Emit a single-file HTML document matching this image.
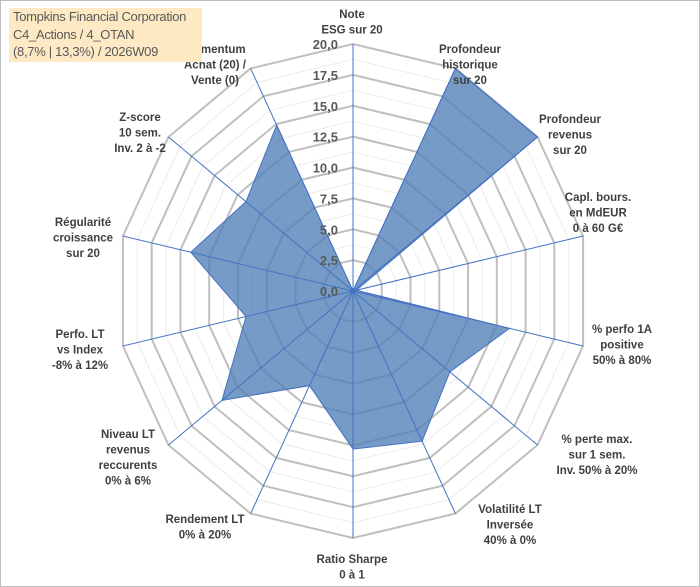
<!DOCTYPE html>
<html><head><meta charset="utf-8"><style>
body{margin:0;background:#fff;}
#wrap{position:relative;width:700px;height:587px;overflow:hidden;font-family:"Liberation Sans",sans-serif;}
.frame{position:absolute;left:0;top:0;width:698px;height:585px;border:1px solid #bdbdbd;}
.title{position:absolute;left:9px;top:8px;width:189px;height:54px;background:#fde9c4;color:#595959;font-size:13px;line-height:17.5px;padding-left:4px;letter-spacing:-0.3px}
</style></head><body>
<div id="wrap">
<div class="frame"></div>
<svg id="chart" width="700" height="587" style="position:absolute;left:0;top:0"></svg>
<div class="title">Tompkins Financial Corporation<br>C4_Actions / 4_OTAN<br>(8,7% | 13,3%) / 2026W09</div>
</div>
<script>
const categories=[["Note","ESG sur 20"],["Profondeur","historique","sur 20"],["Profondeur","revenus","sur 20"],["Capl. bours.","en MdEUR","0 à 60 G€"],["% perfo 1A","positive","50% à 80%"],["% perte max.","sur 1 sem.","Inv. 50% à 20%"],["Volatilité LT","Inversée","40% à 0%"],["Ratio Sharpe","0 à 1"],["Rendement LT","0% à 20%"],["Niveau LT","revenus","reccurents","0% à 6%"],["Perfo. LT","vs Index","-8% à 12%"],["Régularité","croissance","sur 20"],["Z-score","10 sem.","Inv. 2 à -2"],["Momentum","Achat (20) /","Vente (0)"]];
const values=[0,20,20,0.3,13.6,10.5,13.5,12.8,8.5,14.2,9.3,14.1,11.6,14.9];
const tickLabels=["0,0","2,5","5,0","7,5","10,0","12,5","15,0","17,5","20,0"];
const maxVal=20;
const cx=353,cy=291,RX=236,RY=247;
const labelPos=[[352,5],[470,40],[570,110],[598,188],[622,320],[597,430],[510,500],[352,550],[205,510],[128,425],[80,325],[83,213],[140,108],[215,40]];
const svg=document.getElementById('chart');
const NS='http://www.w3.org/2000/svg';
const N=categories.length;
function ang(i){return i*2*Math.PI/N;}
function pt(i,v){const r=v/maxVal;return [cx+r*RX*Math.sin(ang(i)),cy-r*RY*Math.cos(ang(i))];}
function mk(t,a){const e=document.createElementNS(NS,t);for(const k in a)e.setAttribute(k,a[k]);svg.appendChild(e);return e;}
for(let k=1;k<=16;k++){
  const v=k*maxVal/16;const pts=[];for(let i=0;i<N;i++)pts.push(pt(i,v).join(','));
  const major=k%2===0;
  const g=mk('polygon',{points:pts.join(' '),fill:'none',stroke:major?'#bfbfbf':'#ececec','stroke-width':major?2:1});
  
  
}
const sp=values.map((v,i)=>pt(i,v).join(',')).join(' ');
const poly=mk('polygon',{points:sp,fill:'#4f7fb6','fill-opacity':0.78,stroke:'#4472c4','stroke-width':1});


for(let i=0;i<N;i++){
  const p=pt(i,maxVal);
  const l=mk('line',{x1:cx,y1:cy,x2:p[0],y2:p[1],stroke:'#4472c4','stroke-width':1});
  
  
}
tickLabels.forEach((t,k)=>{
  const y=cy-(k*2.5)/maxVal*RY;
  const e=mk('text',{x:338,y:y+5,'text-anchor':'end','font-size':13,'font-weight':'bold',fill:'#595959'});
  e.textContent=t;
  
  
});
categories.forEach((c,i)=>{
  const [x,y]=labelPos[i];
  const e=mk('text',{x:x,y:y+13,'text-anchor':'middle','font-size':11.5,'font-weight':'bold',fill:'#404040'});
  
  
  c.forEach((s,j)=>{const ts=document.createElementNS(NS,'tspan');ts.setAttribute('x',x);ts.setAttribute('dy',j===0?0:15.5);ts.textContent=s;e.appendChild(ts);});
});
</script>
</body></html>
